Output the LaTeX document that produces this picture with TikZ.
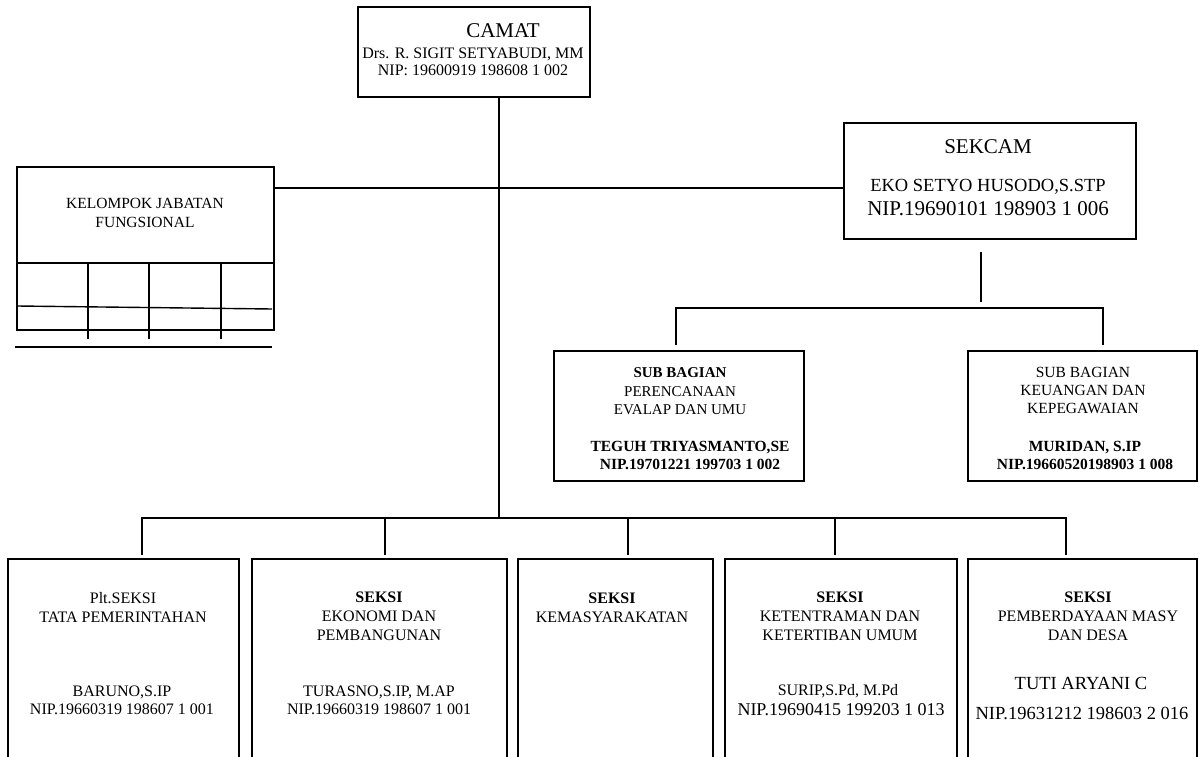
\documentclass[tikz,border=0pt]{standalone}
\usepackage{fontspec}
\setmainfont{Liberation Serif}
\usetikzlibrary{positioning}
\tikzset{
	box/.style={draw, rectangle, line width=1.8pt, inner sep=0pt},
	link/.style={line width=1.4pt},
	lbl/.style={align=center, inner sep=0pt},
}
\newcommand{\fsz}[2]{\fontsize{#1pt}{#2pt}\selectfont}

\begin{document}
\begin{tikzpicture}[x=1pt, y=-1pt]
	\useasboundingbox (0,0) rectangle (1199,757);
	\clip (0,0) rectangle (1199,757);

	% boxes
	\node[box, minimum width=232pt, minimum height=90pt] (camat) at (474,52) {};
	\node[box, minimum width=257pt, minimum height=163pt] (kjf) at (145.5,248.5) {};
	\node[box, minimum width=292pt, minimum height=116pt] (sekcam) at (990,181) {};
	\node[box, minimum width=250pt, minimum height=130pt] (subA) at (679,416) {};
	\node[box, minimum width=229pt, minimum height=130pt] (subB) at (1082.5,416) {};
	\node[box, minimum width=231pt, minimum height=250pt] (seksiA) at (123.5,684) {};
	\node[box, minimum width=255pt, minimum height=250pt] (seksiB) at (379.5,684) {};
	\node[box, minimum width=195pt, minimum height=250pt] (seksiC) at (615.5,684) {};
	\node[box, minimum width=232pt, minimum height=250pt] (seksiD) at (841,684) {};
	\node[box, minimum width=229pt, minimum height=250pt] (seksiE) at (1082.5,684) {};

	% table under kelompok jabatan
	\draw[box] (17,263) -- (274,263);
	\draw[link] (17,306) -- (272,309);
	\foreach \x in {88,149,221}
		\draw[link] (\x,263) -- (\x,339);
	\draw[link] (15,347) -- (272,347);

	% texts
	\node[lbl, font=\fsz{21}{24}] (camatT) at (503,31) {CAMAT};
	\node[lbl, font=\fsz{16}{17}] (camatN) at (473,61.5) {Drs. R. SIGIT SETYABUDI, MM\\NIP: 19600919 198608 1 002};

	\node[lbl, font=\fsz{15.5}{19.5}] (kjfT) at (145,213) {KELOMPOK JABATAN\\FUNGSIONAL};

	\node[lbl, font=\fsz{21}{24}] (sekcamT) at (988,147) {SEKCAM};
	\node[lbl, font=\fsz{18.5}{22}] (sekcamN) at (988,187) {EKO SETYO HUSODO,S.STP};
	\node[lbl, font=\fsz{21}{24}] (sekcamP) at (988,209) {NIP.19690101 198903 1 006};

	\node[lbl, font=\fsz{15}{18.5}] (subAT) at (680,391.5) {\textbf{SUB BAGIAN}\\PERENCANAAN\\EVALAP DAN UMU};
	\node[lbl, font=\bfseries\fsz{15.5}{18}] (subAN) at (690,455) {TEGUH TRIYASMANTO,SE\\NIP.19701221 199703 1 002};

	\node[lbl, font=\fsz{15.5}{18}] (subBT) at (1083,390) {SUB BAGIAN\\KEUANGAN DAN\\KEPEGAWAIAN};
	\node[lbl, font=\bfseries\fsz{15.5}{18}] (subBN) at (1085,455) {MURIDAN, S.IP\\NIP.19660520198903 1 008};

	\node[lbl, font=\fsz{16}{19}] (seksiAT) at (123,607.5) {Plt.SEKSI\\TATA PEMERINTAHAN};
	\node[lbl, font=\fsz{16}{18}] (seksiAN) at (122,700) {BARUNO,S.IP\\NIP.19660319 198607 1 001};

	\node[lbl, font=\fsz{16}{19}] (seksiBT) at (379,616) {\textbf{SEKSI}\\EKONOMI DAN\\PEMBANGUNAN};
	\node[lbl, font=\fsz{16}{18}] (seksiBN) at (379,700) {TURASNO,S.IP, M.AP\\NIP.19660319 198607 1 001};

	\node[lbl, font=\fsz{16}{19}] (seksiCT) at (612,607.5) {\textbf{SEKSI}\\KEMASYARAKATAN};

	\node[lbl, font=\fsz{16}{19}] (seksiDT) at (840,616) {\textbf{SEKSI}\\KETENTRAMAN DAN\\KETERTIBAN UMUM};
	\node[lbl, font=\fsz{16}{19}] (seksiDN) at (838,691) {SURIP,S.Pd, M.Pd};
	\node[lbl, font=\fsz{18}{21}] (seksiDP) at (841,710) {NIP.19690415 199203 1 013};

	\node[lbl, font=\fsz{16}{19}] (seksiET) at (1088,616) {\textbf{SEKSI}\\PEMBERDAYAAN MASY\\DAN DESA};
	\node[lbl, font=\fsz{18.5}{22}] (seksiEN) at (1081,683) {TUTI ARYANI C};
	\node[lbl, font=\fsz{18.5}{22}] (seksiEP) at (1082,713) {NIP.19631212 198603 2 016};

	% connectors
	\coordinate (trunk) at (499,518);
	\draw[link] (camat.south -| trunk) -- (trunk);

	\coordinate (midrow) at (0,188);
	\draw[link] (midrow -| kjf.east) -- (midrow -| sekcam.west);

	\coordinate (sekTop) at (981,252);
	\coordinate (sekBot) at (981,302);
	\draw[link] (sekTop) -- (sekBot);

	\coordinate (subL) at (676,345);
	\coordinate (subR) at (1103,345);
	\coordinate (subrow) at (0,308);
	\draw[link] (subL) -- (subL |- subrow) -- (subR |- subrow) -- (subR);

	\foreach \x/\n in {142/A,385/B,628/C,835/D,1066/E}
		\coordinate (drop\n) at (\x,555);
	\draw[link] (dropA) -- (dropA |- trunk) -- (dropE |- trunk) -- (dropE);
	\foreach \n in {B,C,D}
		\draw[link] (drop\n |- trunk) -- (drop\n);
\end{tikzpicture}
\end{document}
